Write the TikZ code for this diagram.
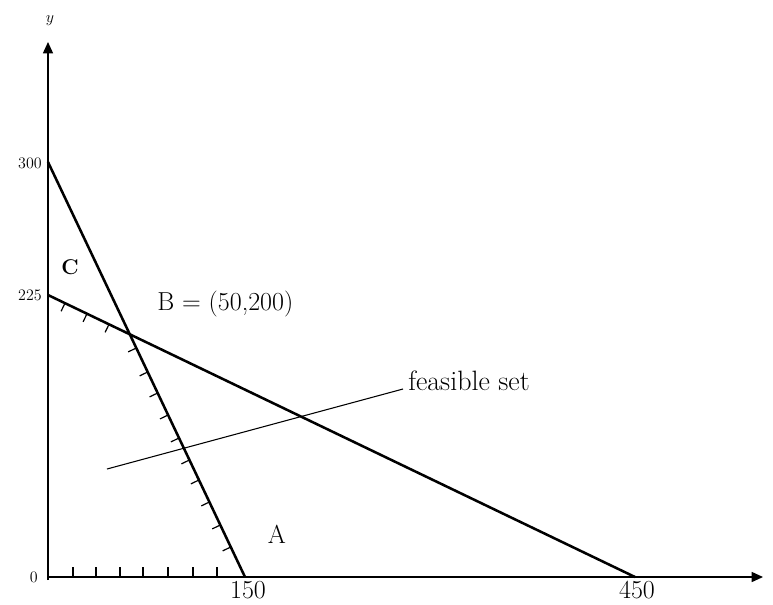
\documentclass[tikz,border=0pt]{standalone}
\usetikzlibrary{calc,arrows.meta}
\begin{document}
\begin{tikzpicture}[x=0.75pt,y=-0.75pt,
  axis/.style={line width=1.1pt,-{Triangle[length=8.5pt,width=7.5pt]}},
  constraint/.style={line width=1.9pt},
  hatch/.style={line width=0.9pt},
  leader/.style={line width=0.8pt},
  big/.style={font=\fontsize{19.5}{21}\selectfont, inner sep=0pt},
  huge/.style={font=\fontsize{21}{23}\selectfont, inner sep=0pt},
  mid/.style={font=\fontsize{16}{18}\selectfont\bfseries, inner sep=0pt},
  small/.style={font=\fontsize{12}{14}\selectfont, inner sep=0pt}]
\useasboundingbox (0,0) rectangle (773,604);
% key points (pixel coordinates)
\coordinate (O) at (48,577);
\coordinate (Ybot) at (48,580);
\coordinate (Ytop) at (48,42);
\coordinate (Xend) at (763,577);
\coordinate (S1) at (48,162);
\coordinate (S2) at (245,577);
\coordinate (T1) at (48,295);
\coordinate (T2) at (635,577);
\coordinate (L1) at (107,469);
\coordinate (L2) at (403,389);
% axes
\draw[axis] (Ybot) -- (Ytop);
\draw[axis] (O) -- (Xend);
% x-axis ticks
\foreach \x in {73,96,120,143,168,193,217}
  \draw[hatch] (\x,577) -- ++(0,-10);
% constraint lines
\draw[constraint] (S1) -- (S2);
\draw[constraint] (T1) -- (T2);
% hatch marks on the shallow line (left of B)
\foreach \x in {65,87,109}
  \draw[hatch] ($(T1)!{(\x-48)/587}!(T2)$) -- ++(-3.9,8.1);
% hatch marks on the steep line (below B)
\foreach \y in {348,372,393,415,438,460,480,502,525,547}
  \draw[hatch] ($(S1)!{(\y-162)/415}!(S2)$) -- ++(-8.1,3.9);
% leader to "feasible set"
\draw[leader] (L1) -- (L2);
% labels
\node[small, anchor=south] (ylab) at (50,26) {$y$};
\node[small, anchor=east] (l300) at (42,163) {300};
\node[small, anchor=east] (l225) at (42,295) {225};
\node[small, anchor=east] (l0) at (38,577) {0};
\node[mid] (C) at (70,267) {C};
\node[big, anchor=base west] (B) at (157,310) {B = (50,200)};
\node[huge, anchor=base west] (fs) at (408,390) {feasible set};
\node[big] (A) at (277,534) {A};
\node[big, anchor=north] (x150) at (248,581) {150};
\node[big, anchor=north] (x450) at (637,581) {450};
\end{tikzpicture}
\end{document}
